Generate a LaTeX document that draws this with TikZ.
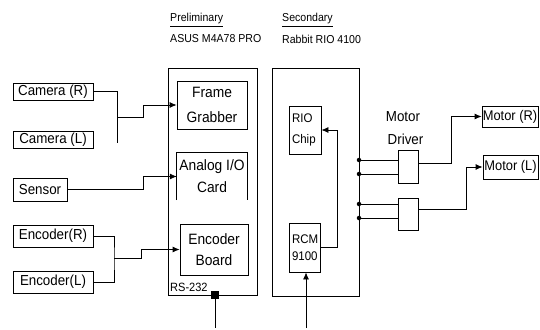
\documentclass[tikz,border=0pt]{standalone}
\usepackage{fontspec}
\setmainfont{Liberation Sans}[FakeStretch=0.92]
\usetikzlibrary{arrows.meta}
\begin{document}
\begin{tikzpicture}[x=1pt,y=-1pt,
  box/.style={draw, line width=0.8pt, inner sep=0pt, align=center, font=\fontsize{14.5}{16}\selectfont},
  wire/.style={line width=0.8pt},
  arr/.style={wire, -{Latex[length=7pt,width=6pt]}},
  dot/.style={circle, fill, inner sep=0pt, minimum size=4.5pt},
  lbl/.style={inner sep=0pt, anchor=west, font=\fontsize{11.5}{13}\selectfont}]
\useasboundingbox (0,0) rectangle (540,329);

% top labels
\node[lbl] (prelimT) at (170,20) {\underline{Preliminary}};
\node[lbl] (asusT) at (170,39) {ASUS M4A78 PRO};
\node[lbl] (secT) at (282,20) {\underline{Secondary}};
\node[lbl] (rabT) at (282,39) {Rabbit RIO 4100};

% left inputs
\node[box, minimum width=80pt, minimum height=17pt] (camR) at (53,91.5) {Camera (R)};
\node[box, minimum width=80pt, minimum height=17pt] (camL) at (53,139.5) {Camera (L)};
\node[box, minimum width=54pt, minimum height=23pt] (sensor) at (40,189.5) {Sensor};
\node[box, minimum width=80pt, minimum height=22pt] (encR) at (53,236) {Encoder(R)};
\node[box, minimum width=80pt, minimum height=22pt] (encL) at (53,282) {Encoder(L)};

% preliminary computer
\node[box, minimum width=89pt, minimum height=227pt] (prelim) at (212.5,181.5) {};
\node[box, minimum width=70pt, minimum height=48pt, font=\fontsize{15}{25}\selectfont] (frame) at (212,105) {Frame\\Grabber};
\node[inner sep=0pt, minimum width=70pt, minimum height=47pt, align=center, font=\fontsize{15}{22}\selectfont] (analog) at (212,176.5) {\raisebox{-2.5pt}{Analog I/O}\\\raisebox{-2.5pt}{Card}};
\draw[wire] (analog.south west) -- (analog.north west) -- (analog.north east) -- (analog.south east);
\node[box, minimum width=68pt, minimum height=51pt, font=\fontsize{15}{21}\selectfont] (encb) at (214,249.5) {Encoder\\Board};
\node[lbl, font=\fontsize{12}{14}\selectfont] (rsT) at (170,287) {RS-232};
\node[fill, minimum size=8pt, inner sep=0pt] (rs) at (215,295) {};
\coordinate (rsEnd) at (215,328);
\draw[wire] (rs) -- (rsEnd);

% secondary computer
\node[box, minimum width=87pt, minimum height=228pt] (second) at (315.5,182) {};
\node[box, minimum width=32pt, minimum height=48pt, text width=26pt, align=left, font=\fontsize{12.5}{21}\selectfont] (rio) at (305,130) {RIO\\Chip};
\node[box, minimum width=31pt, minimum height=49pt, text width=25pt, align=left, font=\fontsize{12.5}{17}\selectfont] (rcm) at (304.5,247.5) {RCM\\9100};
\coordinate (rk) at (337,247.5);
\draw[arr] (rcm.east) -- (rk) |- (rio.east);
\coordinate (rcmIn) at (306,328);
\draw[arr] (rcmIn) -- (rcmIn |- rcm.south);

% camera wiring
\coordinate (cj) at (117,91.5);
\coordinate (cb) at (117,143);
\coordinate (cm) at (117,117);
\coordinate (ck) at (143,117);
\draw[wire] (camR.east) -- (cj) -- (cb);
\draw[arr] (cm) -- (ck) |- (frame.west);

% sensor wiring
\coordinate (sk) at (143,189.5);
\draw[arr] (sensor.east) -- (sk) |- (analog.west);

% encoder wiring
\coordinate (ej) at (114,258);
\coordinate (ek) at (141,258);
\draw[wire] (encR.east) -| (ej) |- (encL.east);
\draw[arr] (ej) -- (ek) |- (encb.west);

% motor drivers
\node[box, minimum width=20pt, minimum height=33pt] (drv1) at (408,166.5) {};
\node[box, minimum width=20pt, minimum height=32pt] (drv2) at (408,214) {};
\node[inner sep=0pt, align=center, font=\fontsize{14.5}{23}\selectfont] (drvT) at (403,128) {Motor\\\hspace*{5pt}Driver};

\node[dot] (d1) at (359,160) {};
\node[dot] (d2) at (359,174) {};
\node[dot] (d3) at (359,204) {};
\node[dot] (d4) at (359,218) {};
\draw[wire] (d1) -- (d1 -| drv1.west);
\draw[wire] (d2) -- (d2 -| drv1.west);
\draw[wire] (d3) -- (d3 -| drv2.west);
\draw[wire] (d4) -- (d4 -| drv2.west);

% motors
\node[box, minimum width=56pt, minimum height=21pt, font=\fontsize{14}{15}\selectfont] (motR) at (510,116.5) {Motor (R)};
\node[box, minimum width=55pt, minimum height=24pt, font=\fontsize{14}{15}\selectfont] (motL) at (510.5,167) {Motor (L)};
\coordinate (m1) at (451,116.5);
\coordinate (m2) at (466,167);
\draw[arr] ([yshift=3.5pt]drv1.east) -| (m1) -- (motR.west);
\draw[arr] ([yshift=5pt]drv2.east) -| (m2) -- (motL.west);
\end{tikzpicture}
\end{document}
